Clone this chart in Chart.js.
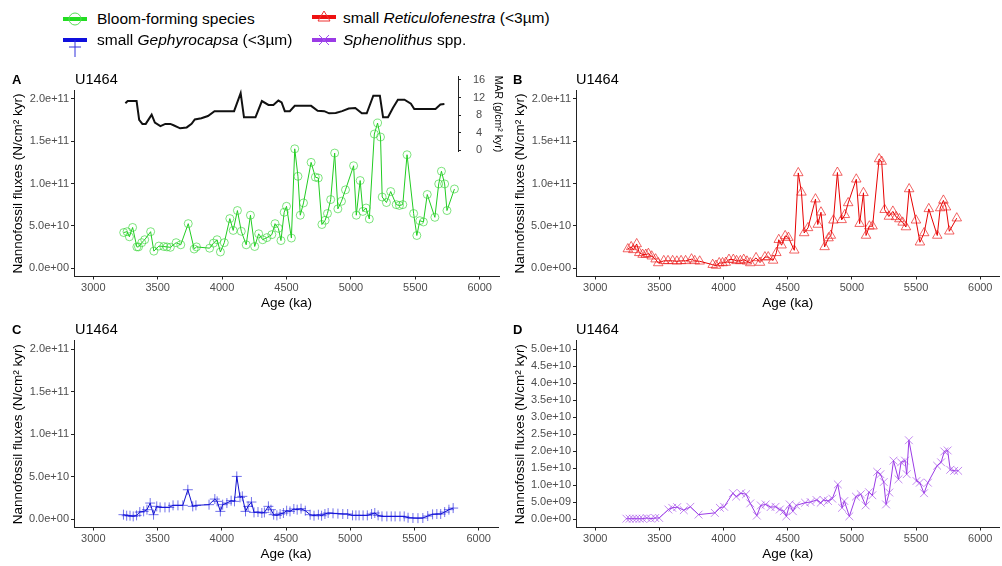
<!DOCTYPE html>
<html>
<head>
<meta charset="utf-8">
<script src="https://cdn.jsdelivr.net/npm/chart.js@4.4.0/dist/chart.umd.min.js"></script>
<style>
  html, body { margin:0; padding:0; background:#fff; width:1002px; height:566px; overflow:hidden; position:relative; font-family:"Liberation Sans", Arial, sans-serif; }
  .lbl { position:absolute; line-height:1; white-space:nowrap; }
  .pl { font-weight:bold; font-size:13px; color:#000; }
  .site { font-size:14.5px; color:#000; }
  .leg { position:absolute; font-size:15.5px; color:#000; line-height:1; white-space:nowrap; }
  svg.ic { position:absolute; }
  canvas { position:absolute; }
</style>
</head>
<body>
<script>
// ---------------- DATA ----------------
const xTicks = [3000, 3500, 4000, 4500, 5000, 5500, 6000];
const fluxTicks = [0, 5e10, 1e11, 1.5e11, 2e11];
const sphenTicks = [0, 5e9, 1e10, 1.5e10, 2e10, 2.5e10, 3e10, 3.5e10, 4e10, 4.5e10, 5e10];
const marTicks = [0, 4, 8, 12, 16];

// Panel A: Bloom-forming species
const bloomAge = [3236,3262,3280,3305,3338,3351,3376,3399,3445,3470,3509,3547,3572,3598,3643,3679,3737,3783,3801,3903,3933,3961,3987,4017,4060,4086,4119,4149,4187,4220,4253,4284,4315,4348,4386,4411,4437,4457,4482,4500,4538,4564,4589,4607,4632,4691,4724,4747,4775,4800,4818,4843,4874,4899,4927,4958,5021,5042,5072,5093,5118,5143,5182,5207,5230,5243,5276,5309,5352,5377,5403,5436,5487,5512,5535,5563,5593,5652,5682,5703,5728,5746,5804];
const bloomFlux = [4.2e10,4.3e10,3.7e10,4.8e10,2.5e10,2.5e10,3.0e10,3.35e10,4.3e10,2.0e10,2.6e10,2.55e10,2.5e10,2.45e10,3.0e10,2.75e10,5.25e10,2.25e10,2.5e10,2.35e10,2.95e10,3.35e10,1.9e10,3.0e10,5.85e10,4.45e10,6.8e10,4.35e10,2.75e10,6.25e10,2.55e10,4.05e10,3.35e10,3.6e10,3.95e10,5.25e10,4.7e10,3.25e10,6.6e10,7.3e10,3.55e10,14.1e10,10.85e10,6.25e10,7.7e10,12.5e10,10.75e10,10.65e10,5.15e10,5.65e10,6.45e10,8.1e10,13.6e10,7.0e10,7.9e10,9.25e10,12.1e10,6.25e10,10.35e10,6.7e10,7.1e10,5.8e10,15.85e10,17.15e10,15.5e10,8.4e10,7.75e10,9.05e10,7.5e10,7.4e10,7.5e10,13.4e10,6.45e10,3.85e10,5.6e10,5.45e10,8.7e10,6.0e10,9.95e10,11.45e10,9.95e10,6.8e10,9.35e10];

// Panel A inset: MAR (g/cm2 kyr)
const marAge = [3249,3267,3336,3356,3381,3407,3453,3478,3521,3559,3598,3623,3674,3725,3763,3788,3839,3890,3941,4093,4144,4170,4259,4309,4360,4398,4437,4462,4487,4526,4564,4691,4742,4793,4831,4882,4932,4983,5034,5085,5123,5174,5225,5250,5288,5326,5365,5416,5466,5492,5657,5695,5726];
const marValue = [10.7,11.2,11.2,6.9,6.0,6.0,8.1,6.3,5.5,6.0,6.0,5.7,5.0,5.2,6.0,7.0,7.3,7.8,8.9,8.9,13.0,7.5,7.5,11.2,10.3,10.3,11.3,10.9,8.9,8.9,10.1,10.1,9.0,8.9,8.4,8.5,8.9,9.5,9.6,8.4,8.4,12.4,12.4,7.5,7.5,9.6,11.5,11.5,10.6,9.4,9.4,10.4,10.5];

// Panel B: small Reticulofenestra
const reticAge = [3254,3280,3297,3323,3343,3369,3394,3414,3440,3470,3491,3534,3567,3603,3636,3669,3704,3750,3775,3814,3915,3941,3966,3992,4017,4042,4076,4101,4131,4157,4182,4208,4253,4284,4322,4348,4386,4411,4430,4452,4480,4505,4551,4582,4607,4628,4658,4716,4734,4759,4787,4818,4836,4856,4887,4920,4945,4971,5034,5060,5090,5110,5136,5161,5212,5232,5255,5288,5319,5344,5370,5395,5421,5446,5499,5530,5563,5599,5665,5688,5713,5733,5759,5817];
const reticFlux = [2.25e10,2.5e10,2.15e10,2.85e10,1.8e10,1.6e10,1.6e10,1.7e10,1.4e10,1.05e10,0.6e10,0.85e10,0.85e10,0.85e10,0.8e10,0.85e10,0.85e10,1.05e10,0.85e10,0.8e10,0.4e10,0.3e10,0.6e10,0.6e10,0.65e10,1.0e10,1.0e10,0.85e10,0.85e10,1.0e10,0.8e10,0.6e10,1.2e10,0.65e10,1.3e10,1.3e10,0.9e10,1.8e10,3.35e10,2.7e10,3.8e10,3.6e10,2.1e10,11.25e10,8.95e10,4.15e10,4.75e10,8.15e10,5.15e10,6.6e10,2.5e10,3.55e10,3.85e10,5.65e10,11.3e10,5.7e10,6.3e10,7.7e10,10.5e10,5.25e10,8.9e10,3.85e10,4.95e10,4.95e10,12.9e10,12.6e10,6.9e10,6.1e10,6.7e10,6.05e10,5.8e10,5.4e10,4.85e10,9.35e10,5.65e10,3.05e10,4.15e10,7.0e10,3.85e10,7.1e10,8.0e10,7.2e10,4.35e10,5.9e10];

// Panel C: small Gephyrocapsa
const gephAge = [3235,3260,3286,3311,3337,3362,3392,3418,3443,3469,3494,3520,3558,3591,3621,3659,3697,3736,3774,3799,3901,3946,3964,3989,4007,4040,4073,4099,4117,4142,4160,4185,4205,4231,4251,4282,4312,4332,4363,4383,4404,4429,4454,4480,4505,4531,4561,4587,4617,4650,4688,4718,4752,4777,4803,4828,4866,4904,4942,4980,5018,5044,5069,5100,5133,5166,5191,5217,5247,5285,5319,5349,5387,5420,5450,5488,5527,5565,5603,5641,5674,5704,5735,5768,5801];
const gephFlux = [0.51e10,0.39e10,0.39e10,0.31e10,0.43e10,0.82e10,0.9e10,1.1e10,1.88e10,0.51e10,1.49e10,1.37e10,1.37e10,1.37e10,1.61e10,1.61e10,1.61e10,3.45e10,1.49e10,1.61e10,1.69e10,2.35e10,2.08e10,0.9e10,1.69e10,1.88e10,2.16e10,2.08e10,5.02e10,2.55e10,2.67e10,0.9e10,1.49e10,2.0e10,0.78e10,0.82e10,0.71e10,0.78e10,1.49e10,1.1e10,0.51e10,0.43e10,0.59e10,0.71e10,0.98e10,0.9e10,1.18e10,1.1e10,1.22e10,0.98e10,0.51e10,0.39e10,0.51e10,0.39e10,0.59e10,0.71e10,0.67e10,0.63e10,0.59e10,0.59e10,0.43e10,0.43e10,0.43e10,0.43e10,0.43e10,0.59e10,0.71e10,0.43e10,0.31e10,0.31e10,0.31e10,0.31e10,0.31e10,0.31e10,0.15e10,0.12e10,0.1e10,0.12e10,0.35e10,0.55e10,0.59e10,0.59e10,0.82e10,1.1e10,1.29e10];

// Panel D: Sphenolithus spp.
const sphenAge = [3243,3268,3294,3319,3345,3370,3401,3434,3467,3498,3570,3600,3638,3690,3741,3805,3932,3971,4004,4073,4098,4136,4175,4208,4259,4290,4328,4366,4405,4438,4469,4489,4515,4540,4566,4635,4678,4724,4757,4780,4814,4847,4890,4923,4941,4980,5031,5069,5107,5133,5159,5197,5222,5248,5266,5291,5324,5363,5383,5414,5427,5444,5503,5529,5562,5592,5664,5695,5720,5746,5766,5797,5828];
const sphenFlux = [0.01e10,0.01e10,0.01e10,0.01e10,0.01e10,0.01e10,0.03e10,0.01e10,0.03e10,0.03e10,0.28e10,0.33e10,0.35e10,0.26e10,0.36e10,0.13e10,0.18e10,0.33e10,0.36e10,0.76e10,0.66e10,0.76e10,0.73e10,0.46e10,0.1e10,0.4e10,0.43e10,0.35e10,0.36e10,0.28e10,0.23e10,0.08e10,0.43e10,0.23e10,0.4e10,0.48e10,0.5e10,0.56e10,0.48e10,0.56e10,0.53e10,0.6e10,1.02e10,0.33e10,0.53e10,0.08e10,0.66e10,0.73e10,0.4e10,0.79e10,0.7e10,1.39e10,1.32e10,1.09e10,0.43e10,0.78e10,1.72e10,1.17e10,1.67e10,1.72e10,1.32e10,2.32e10,1.12e10,1.07e10,0.76e10,1.07e10,1.57e10,1.67e10,1.99e10,2.02e10,1.45e10,1.42e10,1.42e10];

// ---------------- HELPERS ----------------
const FF = '"Liberation Sans", Arial, sans-serif';
Chart.defaults.font.family = FF;
function zip(xs, ys) { return xs.map((x, i) => ({ x: x, y: ys[i] })); }
function sci(v) {
  const s = Number(v).toExponential(1);
  return s.replace(/e([+-])(\d)$/, (m, sg, d) => 'e' + sg + '0' + d);
}
function addCanvas(left, top, w, h) {
  const c = document.createElement('canvas');
  c.width = w; c.height = h;
  c.style.left = left + 'px'; c.style.top = top + 'px';
  c.style.width = w + 'px'; c.style.height = h + 'px';
  document.body.appendChild(c);
  return c;
}
const AX = '#222';
function panel(left, top, h, padTop, dataset, yMin, yMax, yTickVals) {
  const c = addCanvas(left, top, 504, h);
  return new Chart(c, {
    type: 'line',
    data: { datasets: [dataset] },
    options: {
      responsive: false, animation: false, devicePixelRatio: 1, events: [],
      layout: { padding: { top: padTop, left: 0, right: 0, bottom: 0 } },
      plugins: { legend: { display: false }, tooltip: { enabled: false }, title: { display: false } },
      scales: {
        x: {
          type: 'linear', min: 2850, max: 6150,
          afterBuildTicks: s => { s.ticks = xTicks.map(v => ({ value: v })); },
          afterFit: s => { s.height = 35.5; },
          grid: { display: true, drawOnChartArea: false, drawTicks: true, tickLength: 3, color: AX },
          border: { display: true, color: AX, width: 1 },
          ticks: { color: '#4d4d4d', font: { size: 11 }, padding: 2, autoSkip: false, maxRotation: 0, callback: v => String(v) },
          title: { display: true, text: 'Age (ka)', color: '#000', font: { size: 13.5 }, padding: { top: 0, bottom: 1 } }
        },
        y: {
          type: 'linear', min: yMin, max: yMax,
          afterBuildTicks: s => { s.ticks = yTickVals.map(v => ({ value: v })); },
          afterFit: s => { s.width = 74; },
          grid: { display: true, drawOnChartArea: false, drawTicks: true, tickLength: 3, color: AX },
          border: { display: true, color: AX, width: 1 },
          ticks: { color: '#4d4d4d', font: { size: 11 }, padding: 2, autoSkip: false, callback: v => sci(v) },
          title: { display: true, text: 'Nannofossil fluxes (N/cm² kyr)', color: '#000', font: { size: 13.5 }, padding: { top: 10, bottom: 0 } }
        }
      }
    }
  });
}
function series(label, xs, ys, line, mark, style, r) {
  return {
    label: label, data: zip(xs, ys), borderColor: line, borderWidth: 1, tension: 0,
    pointStyle: style, pointRadius: r, pointBorderColor: mark, pointBackgroundColor: 'rgba(0,0,0,0)',
    pointBorderWidth: 1, fill: false
  };
}

// ---------------- PANELS ----------------
const chartA = panel(0, 60, 252, 30.5,
  series('Bloom-forming species', bloomAge, bloomFlux, '#22cc22', 'rgba(40,210,40,0.6)', 'circle', 4),
  -1e10, 2.1e11, fluxTicks);
const chartB = panel(502, 60, 252, 30.5,
  series('small Reticulofenestra (<3µm)', reticAge, reticFlux, '#e60000', 'rgba(235,20,20,0.65)', 'triangle', 5.5),
  -1e10, 2.1e11, fluxTicks);
const chartC = panel(0, 310, 253, 30.8,
  series('small Gephyrocapsa (<3µm)', gephAge, gephFlux, '#1010cc', 'rgba(20,20,220,0.6)', 'cross', 5),
  -1e10, 2.1e11, fluxTicks);
const chartD = panel(502, 310, 253, 30.8,
  series('Sphenolithus spp.', sphenAge, sphenFlux, '#9b3be6', 'rgba(155,60,230,0.6)', 'crossRot', 5.5),
  -2.5e9, 5.25e10, sphenTicks);

// ---------------- MAR INSET (panel A) ----------------
(function () {
  const xs = chartA.scales.x;
  const axisPx = 458;                  // MAR axis position inside panel A
  const plotW = axisPx - xs.left;
  const oc = addCanvas(xs.left, 58, plotW + 46, 112);
  new Chart(oc, {
    type: 'line',
    data: { datasets: [{ label: 'MAR', data: zip(marAge, marValue), borderColor: '#111', borderWidth: 2, pointRadius: 0, tension: 0, fill: false }] },
    options: {
      responsive: false, animation: false, devicePixelRatio: 1, events: [],
      layout: { padding: { top: 9.92, bottom: 9.64, left: 0, right: 0 } },
      plugins: { legend: { display: false }, tooltip: { enabled: false } },
      scales: {
        x: { type: 'linear', display: false, min: xs.min, max: xs.getValueForPixel(axisPx) },
        y: {
          type: 'linear', position: 'right', min: -0.25, max: 16.75,
          afterBuildTicks: s => { s.ticks = marTicks.map(v => ({ value: v })); },
          afterFit: s => { s.width = 46; },
          grid: { display: true, drawOnChartArea: false, drawTicks: true, tickLength: 3, color: AX },
          border: { display: true, color: AX, width: 1 },
          ticks: { color: '#4d4d4d', font: { size: 11 }, padding: 12, crossAlign: 'center', autoSkip: false, callback: v => String(v) },
          title: { display: true, text: 'MAR (g/cm² kyr)', color: '#000', font: { size: 10.5 }, padding: { top: 0, bottom: 0 } }
        }
      }
    }
  });
})();

// ---------------- TEXT LABELS ----------------
function addText(cls, html, left, cy) {
  const d = document.createElement('div');
  d.className = 'lbl ' + cls; d.innerHTML = html;
  d.style.left = left + 'px'; d.style.top = cy + 'px'; d.style.transform = 'translateY(-50%)';
  document.body.appendChild(d);
}
[['A', 12, 79], ['B', 513, 79], ['C', 12, 329], ['D', 513, 329]].forEach(p => {
  addText('pl', p[0], p[1], p[2]);
  addText('site', 'U1464', p[1] + 63, p[2]);
});

// ---------------- LEGEND ----------------
function legText(html, left, cy) {
  const d = document.createElement('div');
  d.className = 'leg'; d.innerHTML = html;
  d.style.left = left + 'px'; d.style.top = cy + 'px'; d.style.transform = 'translateY(-50%)';
  document.body.appendChild(d);
}
function icon(left, top, inner) {
  const ns = 'http://www.w3.org/2000/svg';
  const s = document.createElementNS(ns, 'svg');
  s.setAttribute('class', 'ic'); s.setAttribute('width', 30); s.setAttribute('height', 24);
  s.style.left = left + 'px'; s.style.top = top + 'px';
  s.innerHTML = inner;
  document.body.appendChild(s);
}
// Bloom-forming species (green circle)
icon(61, 7, '<line x1="2" y1="12" x2="26" y2="12" stroke="#22dd22" stroke-width="4"/><circle cx="14" cy="12" r="6" fill="none" stroke="#55dd55" stroke-width="1"/>');
legText('Bloom-forming species', 97, 19);
// small Gephyrocapsa (blue plus)
icon(61, 34, '<line x1="2" y1="6" x2="26" y2="6" stroke="#1010dd" stroke-width="4"/><line x1="8" y1="13" x2="20" y2="13" stroke="#3030dd" stroke-width="1"/><line x1="14" y1="6" x2="14" y2="23" stroke="#3030dd" stroke-width="1"/>');
legText('small <i>Gephyrocapsa</i> (&lt;3µm)', 97, 40);
// small Reticulofenestra (red triangle)
icon(310, 6, '<line x1="2" y1="11" x2="26" y2="11" stroke="#ee1111" stroke-width="4"/><polygon points="14,5 20,15 8,15" fill="none" stroke="#ee3333" stroke-width="1"/>');
legText('small <i>Reticulofenestra</i> (&lt;3µm)', 343, 18);
// Sphenolithus spp. (purple x)
icon(310, 28, '<line x1="2" y1="12" x2="26" y2="12" stroke="#9b3be6" stroke-width="4"/><line x1="9" y1="7" x2="19" y2="17" stroke="#a050ee" stroke-width="1"/><line x1="19" y1="7" x2="9" y2="17" stroke="#a050ee" stroke-width="1"/>');
legText('<i>Sphenolithus</i> spp.', 343, 40);
</script>
</body>
</html>
